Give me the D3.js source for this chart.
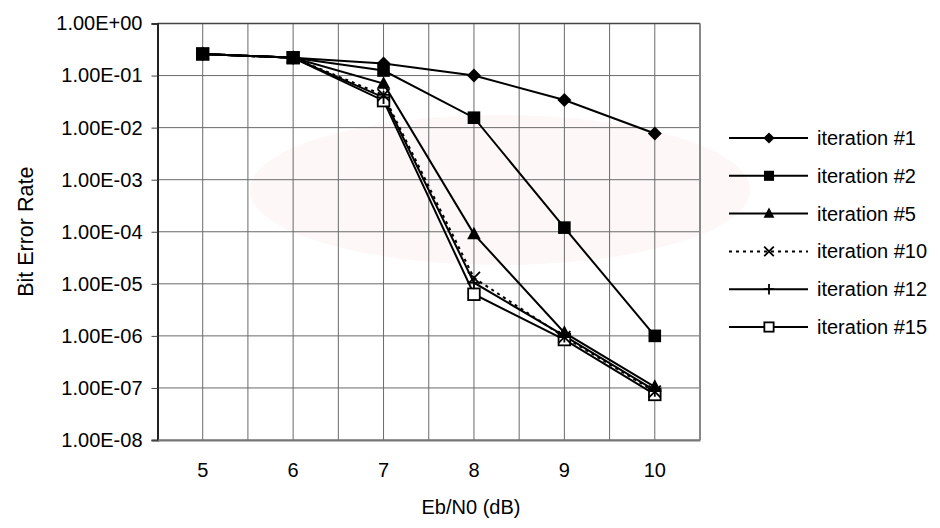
<!DOCTYPE html>
<html><head><meta charset="utf-8">
<script src="https://cdn.jsdelivr.net/npm/d3@7"></script>
<style>body{margin:0;background:#fff}svg{display:block}text{font-family:"Liberation Sans",Arial,sans-serif}</style>
</head><body>
<svg id="c" width="940" height="528"></svg>
<script>
const categories = [5, 6, 7, 8, 9, 10];
const yTicks = [1, 1e-1, 1e-2, 1e-3, 1e-4, 1e-5, 1e-6, 1e-7, 1e-8];
const seriesNames = ["iteration #1", "iteration #2", "iteration #5", "iteration #10", "iteration #12", "iteration #15"];
const iter1  = [0.26, 0.22, 0.17, 0.1, 0.034, 0.0077];
const iter2  = [0.26, 0.22, 0.125, 0.0155, 0.00012, 1.0e-6];
const iter5  = [0.26, 0.22, 0.07, 9.0e-5, 1.15e-6, 1.05e-7];
const iter10 = [0.26, 0.22, 0.042, 1.3e-5, 9.5e-7, 8.5e-8];
const iter12 = [0.26, 0.22, 0.038, 1.05e-5, 1.0e-6, 9.0e-8];
const iter15 = [0.26, 0.22, 0.033, 6.3e-6, 8.5e-7, 7.5e-8];
const seriesValues = [iter1, iter2, iter5, iter10, iter12, iter15];
const markerTypes = ["diamond", "square", "triangle", "x", "plus", "opensquare"];

const svg = d3.select("#c");
const L = 157.5, R = 700, T = 23.5, B = 440;

// very faint background wash (watermark in the reference)
svg.append("ellipse").attr("cx", 500).attr("cy", 190).attr("rx", 250).attr("ry", 75).attr("fill", "#fdf7f8");

const x = d3.scaleBand().domain(categories).range([L, R]).padding(0);
const xc = d => x(d) + x.bandwidth() / 2;
const y = d3.scaleLog().domain([1e-8, 1]).range([B, T]);

const grid = svg.append("g");
const vx = [];
categories.forEach(c => { vx.push(x(c)); vx.push(xc(c)); });
vx.push(R);
grid.selectAll("line.v").data(vx).join("line")
  .attr("x1", d => d).attr("x2", d => d).attr("y1", T).attr("y2", B)
  .attr("stroke", "#6a6a6a").attr("stroke-width", 1);
grid.selectAll("line.h").data(yTicks).join("line")
  .attr("x1", L).attr("x2", R).attr("y1", d => y(d)).attr("y2", d => y(d))
  .attr("stroke", "#6a6a6a").attr("stroke-width", 1);
svg.append("line").attr("x1", L).attr("x2", R).attr("y1", T).attr("y2", T).attr("stroke", "#444").attr("stroke-width", 1.5);
svg.append("line").attr("x1", R).attr("x2", R).attr("y1", T).attr("y2", B).attr("stroke", "#888").attr("stroke-width", 2);

const fmt = v => {
  const e = Math.round(Math.log10(v));
  return "1.00E" + (e >= 0 ? "+" : "-") + String(Math.abs(e)).padStart(2, "0");
};
const yAxis = svg.append("g").attr("transform", `translate(${L},0)`)
  .call(d3.axisLeft(y).tickValues(yTicks).tickFormat(fmt).tickSize(6).tickPadding(9));
yAxis.select(".domain").attr("stroke", "#222").attr("stroke-width", 2);
yAxis.selectAll(".tick line").attr("stroke", "#444");
yAxis.selectAll("text").attr("font-size", 20).attr("fill", "#000").style("font-family", "'Liberation Sans',Arial,sans-serif");

const xAxis = svg.append("g").attr("transform", `translate(0,${B})`)
  .call(d3.axisBottom(x).tickSize(0).tickPadding(23));
xAxis.select(".domain").attr("stroke", "#777").attr("stroke-width", 2);
xAxis.selectAll("text").attr("font-size", 20).attr("fill", "#000").style("font-family", "'Liberation Sans',Arial,sans-serif");

svg.append("text").attr("x", xc(8) - 3).attr("y", 514).attr("text-anchor", "middle").attr("font-size", 20).text("Eb/N0 (dB)");
svg.append("text").attr("transform", `translate(33,${(T + B) / 2}) rotate(-90)`).attr("text-anchor", "middle").attr("font-size", 21.5).text("Bit Error Rate");

function drawMarker(g, type, cx, cy, k) {
  if (type === "diamond") {
    g.append("path").attr("d", `M${cx},${cy - k * 7}L${cx + k * 7},${cy}L${cx},${cy + k * 7}L${cx - k * 7},${cy}Z`).attr("fill", "#000");
  } else if (type === "square") {
    g.append("rect").attr("x", cx - k * 6.3).attr("y", cy - k * 6.3).attr("width", k * 12.6).attr("height", k * 12.6).attr("fill", "#000");
  } else if (type === "triangle") {
    g.append("path").attr("d", `M${cx},${cy - k * 7.5}L${cx + k * 6.8},${cy + k * 5.2}L${cx - k * 6.8},${cy + k * 5.2}Z`).attr("fill", "#000");
  } else if (type === "x") {
    g.append("path").attr("d", `M${cx - k * 6},${cy - k * 6}L${cx + k * 6},${cy + k * 6}M${cx - k * 6},${cy + k * 6}L${cx + k * 6},${cy - k * 6}`).attr("stroke", "#000").attr("stroke-width", 1.8).attr("fill", "none");
  } else if (type === "plus") {
    g.append("path").attr("d", `M${cx - k * 6.5},${cy}L${cx + k * 6.5},${cy}M${cx},${cy - k * 6.5}L${cx},${cy + k * 6.5}`).attr("stroke", "#000").attr("stroke-width", 1.8).attr("fill", "none");
  } else if (type === "opensquare") {
    g.append("rect").attr("x", cx - k * 5.8).attr("y", cy - k * 5.8).attr("width", k * 11.6).attr("height", k * 11.6).attr("fill", "#fff").attr("stroke", "#000").attr("stroke-width", 1.8);
  }
}

const line = d3.line().x((d, i) => xc(categories[i])).y(d => y(d));
const plot = svg.append("g");
seriesValues.forEach((vals, si) => {
  plot.append("path").attr("d", line(vals)).attr("fill", "none").attr("stroke", "#000")
    .attr("stroke-width", 2).attr("stroke-dasharray", si === 3 ? "3,4" : null);
});
for (let si = seriesValues.length - 1; si >= 0; si--) {
  const g = plot.append("g");
  seriesValues[si].forEach((v, i) => drawMarker(g, markerTypes[si], xc(categories[i]), y(v), 1));
}

const lg = svg.append("g");
const legY0 = 138, legDy = 37.8;
seriesNames.forEach((name, i) => {
  const yy = legY0 + i * legDy;
  lg.append("line").attr("x1", 729).attr("x2", 808).attr("y1", yy).attr("y2", yy)
    .attr("stroke", "#000").attr("stroke-width", 2).attr("stroke-dasharray", i === 3 ? "3,4" : null);
  drawMarker(lg, markerTypes[i], 769, yy, 0.8);
  lg.append("text").attr("x", 817).attr("y", yy + 7).attr("font-size", 20).text(name);
});
</script>
</body></html>
